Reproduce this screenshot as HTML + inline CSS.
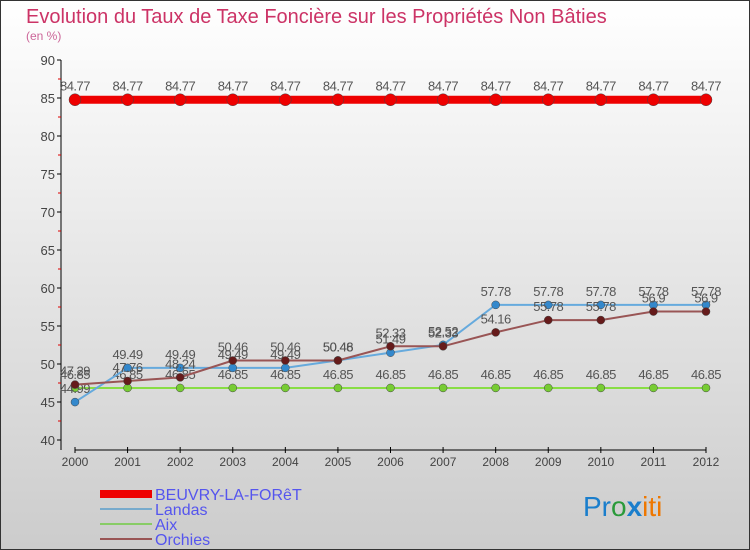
<!DOCTYPE html>
<html><head><meta charset="utf-8"><style>
body{margin:0}
svg{display:block;font-family:"Liberation Sans",sans-serif}
</style></head><body>
<svg width="750" height="550" viewBox="0 0 750 550">
<defs><linearGradient id="bg" x1="0" y1="0" x2="0" y2="1"><stop offset="0" stop-color="#ffffff"/><stop offset="1" stop-color="#cccccc"/></linearGradient></defs>
<rect x="0.5" y="0.5" width="749" height="549" fill="url(#bg)" stroke="#333"/>
<text x="26" y="23" font-size="20" fill="#cc3366">Evolution du Taux de Taxe Foncière sur les Propriétés Non Bâties</text>
<text x="26" y="40" font-size="12" fill="#cc6699">(en %)</text>
<g id="axes"></g>
<g id="series"></g>
<g id="legend"></g>
<text x="583" y="516" font-size="28"><tspan fill="#1a7ecc">Pr</tspan><tspan fill="#2a9a3a">o</tspan><tspan fill="#1a7ecc" font-weight="bold">x</tspan><tspan fill="#ee7700">iti</tspan></text>
</svg>
<script>
const years=[2000,2001,2002,2003,2004,2005,2006,2007,2008,2009,2010,2011,2012];
const beuvry=[84.77,84.77,84.77,84.77,84.77,84.77,84.77,84.77,84.77,84.77,84.77,84.77,84.77];
const landas=[44.99,49.49,49.49,49.49,49.49,50.48,51.49,52.52,57.78,57.78,57.78,57.78,57.78];
const aix=[46.85,46.85,46.85,46.85,46.85,46.85,46.85,46.85,46.85,46.85,46.85,46.85,46.85];
const orchies=[47.29,47.76,48.24,50.46,50.46,50.46,52.33,52.33,54.16,55.78,55.78,56.9,56.9];
const yTicks=[40,45,50,55,60,65,70,75,80,85,90];
const seriesNames=["BEUVRY-LA-FORêT","Landas","Aix","Orchies"];
const NS="http://www.w3.org/2000/svg";
const xs=i=>75+i*(706-75)/(years.length-1);
const ys=v=>440-(v-40)*7.6;
function mk(tag,attrs,parent,txt){const e=document.createElementNS(NS,tag);for(const k in attrs)e.setAttribute(k,attrs[k]);if(txt!==undefined)e.textContent=txt;parent.appendChild(e);return e;}
const ax=document.getElementById('axes');
let l=mk('line',{x1:61,y1:60,x2:61,y2:450,stroke:'#000'},ax);


l=mk('line',{x1:75,y1:450,x2:706,y2:450,stroke:'#000'},ax);


yTicks.forEach(v=>{
 const y=ys(v);
 mk('line',{x1:57,y1:y,x2:61,y2:y,stroke:'#000'},ax);
 if(v<90){mk('line',{x1:58,y1:ys(v+2.5),x2:61,y2:ys(v+2.5),stroke:'#d00'},ax);}
 const t=mk('text',{x:55,y:y+5,'font-size':13,fill:'#444','text-anchor':'end'},ax,v);
 
 
});
years.forEach((yr,i)=>{
 const x=xs(i);
 mk('line',{x1:x,y1:447,x2:x,y2:453,stroke:'#000'},ax);
 const t=mk('text',{x:x,y:466,'font-size':12,fill:'#444','text-anchor':'middle'},ax,yr);
 
 
});
const sg=document.getElementById('series');
const defs=[[aix,'#88dd44','#77cc33',2,4,'aix'],[landas,'#66aadd','#3388cc',2,4,'landas'],[orchies,'#995555','#661b1b',2,4,'orchies'],[beuvry,'#ee0000','#ee0000',8,6,'beuvry']];
defs.forEach(([d,lc,pc,w,r,nm])=>{
 const g=mk('g',{},sg);
 
 
 const p=mk('polyline',{points:d.map((v,i)=>xs(i)+','+ys(v)).join(' '),fill:'none',stroke:lc,'stroke-width':w},g);
 
 
 d.forEach((v,i)=>{
  const c=mk('circle',{cx:xs(i),cy:ys(v),r:r,fill:pc,stroke:'#444','stroke-width':0.5},g);
  
  
  const t=mk('text',{x:xs(i),y:ys(v)-9,'font-size':13,fill:'#555','text-anchor':'middle','letter-spacing':'-0.5'},g,String(v));
  
  
 });
});
const lg=document.getElementById('legend');
const lcols=['#ee0000','#77aacc','#88cc66','#995555'];
seriesNames.forEach((n,i)=>{
 const y=494+i*15;
 const r=mk('rect',{x:100,y:y-(i==0?4:1),width:52,height:i==0?8:2,fill:lcols[i]},lg);
 
 
 const t=mk('text',{x:155,y:y+6,'font-size':16,fill:'#5555ee'},lg,n);
 
 
});
</script>
</body></html>
